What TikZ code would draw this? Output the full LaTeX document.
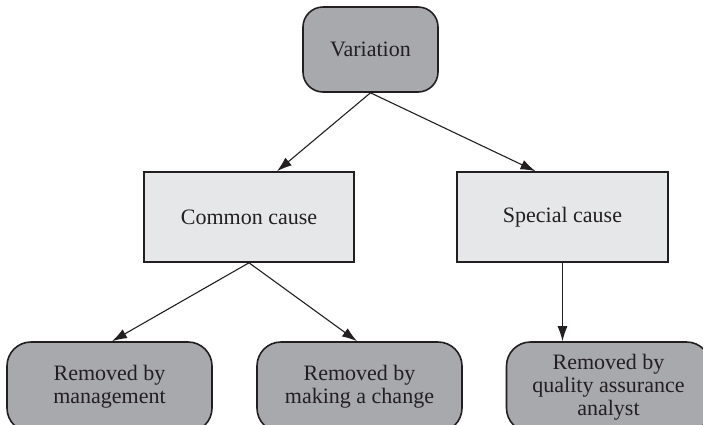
\documentclass[tikz,border=0pt]{standalone}
\usepackage{fontspec}
\setmainfont{Liberation Serif}
\usetikzlibrary{calc,arrows.meta}
\definecolor{edge}{RGB}{35,31,32}
\definecolor{ink}{RGB}{35,31,32}
\definecolor{darkfill}{RGB}{168,169,173}
\definecolor{lightfill}{RGB}{230,231,232}
\begin{document}
\begin{tikzpicture}[x=0.5pt,y=-0.5pt,
  box/.style={draw=edge, line width=0.8pt, font=\fontsize{11}{11.5}\selectfont,
    text=ink, align=center, inner sep=0pt},
  darkbox/.style={box, fill=darkfill, rounded corners=12pt},
  lightbox/.style={box, fill=lightfill},
  link/.style={draw=edge, line width=0.55pt, -{Latex[length=7.5pt,width=5pt]}}]
  \useasboundingbox (0,0) rectangle (703,424);
  \clip (0,0) rectangle (703,424);

  % top level
  \node[darkbox, minimum width=67.5pt, minimum height=42.5pt, rounded corners=10pt]
    (var) at (370.5,49.5) {Variation};

  % two kinds of cause
  \node[lightbox, minimum width=105pt, minimum height=45pt] (cc) at (249,217) {Common cause};
  \node[lightbox, minimum width=105.5pt, minimum height=45pt] (sc) at (562.5,217) {Special cause};

  % remedies (their lower part runs past the frame)
  \node[darkbox, minimum width=102.5pt, minimum height=45pt] (bl) at (109.5,387)
    {Removed by\\management};
  \node[darkbox, minimum width=102.5pt, minimum height=45pt] (bm) at (359.5,387)
    {Removed by\\making a change};
  \node[darkbox, minimum width=102pt, minimum height=45pt] (br) at (608.5,387)
    {Removed by\\quality assurance\\analyst};

  % connectors
  \draw[link] (var.south) -- ($(cc.north)+(28,0)$);
  \draw[link] (var.south) -- ($(sc.north)+(-27,0)$);
  \draw[link] (cc.south) -- ($(bl.north)+(2.5,0)$);
  \draw[link] (cc.south) -- ($(bm.north)+(-2.5,0)$);
  \draw[link] (sc.south) -- (sc.south |- br.north);
\end{tikzpicture}
\end{document}
